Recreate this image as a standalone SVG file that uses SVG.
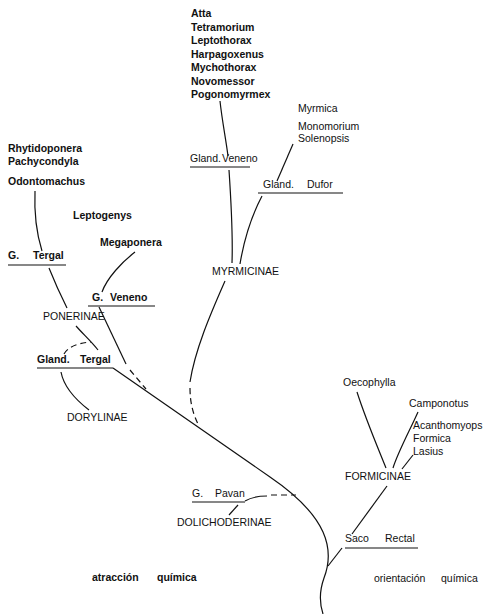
<svg xmlns="http://www.w3.org/2000/svg" width="495" height="614" viewBox="0 0 495 614">
<style>
text{font-family:"Liberation Sans",Arial,sans-serif;font-size:10.5px;fill:#111}
.b{font-weight:bold}
.n{font-weight:normal}
.ul{stroke:#111;stroke-width:1.2}
.c{fill:none;stroke:#111;stroke-width:1.2}
.d{fill:none;stroke:#111;stroke-width:1.2;stroke-dasharray:6 4}
</style>
<rect width="495" height="614" fill="#fff"/>
<g id="connectors">
<path class="c" d="M220,101 C222,120 226,140 228,156"/>
<path class="c" d="M229,170 C231,200 233,235 232,263"/>
<path class="c" d="M293,144 L277,181"/>
<path class="c" d="M262,196 C252,215 244,240 240,264"/>
<path class="c" d="M225,281 C210,315 195,350 190,382"/>
<path class="d" d="M190,388 C190,405 194,416 199,426"/>
<path class="c" d="M35,191 C34,215 37,235 42,251"/>
<path class="c" d="M49,268 C55,283 61,296 67,308"/>
<path class="c" d="M135,252 C122,262 107,278 102,292"/>
<path class="c" d="M99,307 L126,364"/>
<path class="d" d="M130,370 L146,389"/>
<path class="c" d="M76,326 C83,334 92,342 98,350"/>
<path class="d" d="M64,354 C68,347 77,343 91,342"/>
<path class="c" d="M61,372 C64,388 76,400 89,410"/>
<path class="c" d="M113,368 L270,477 C292,492 314,512 323,532 C331,550 329,565 324,578 C319,592 320,605 323,614"/>
<path class="c" d="M245,501 C252,497 258,496 267,496"/>
<path class="d" d="M271,495 L296,495"/>
<path class="c" d="M238,505 L229,515"/>
<path class="c" d="M387,486 L352,534"/>
<path class="c" d="M342,548 L328,566"/>
<path class="c" d="M357,392 C366,420 378,448 386,468"/>
<path class="c" d="M418,412 C410,430 398,452 393,468"/>
<path class="c" d="M413,455 L402,469"/>
</g>
<g id="atta"><text class="b" x="191" y="17">Atta</text></g>
<g id="tetramorium"><text class="b" x="191" y="31">Tetramorium</text></g>
<g id="leptothorax"><text class="b" x="191" y="44">Leptothorax</text></g>
<g id="harpagoxenus"><text class="b" x="191" y="58">Harpagoxenus</text></g>
<g id="mychothorax"><text class="b" x="191" y="71">Mychothorax</text></g>
<g id="novomessor"><text class="b" x="191" y="85">Novomessor</text></g>
<g id="pogonomyrmex"><text class="b" x="191" y="98">Pogonomyrmex</text></g>
<g id="myrmica"><text class="n" x="298" y="112">Myrmica</text></g>
<g id="monomorium"><text class="n" x="298" y="130">Monomorium</text></g>
<g id="solenopsis"><text class="n" x="298" y="142">Solenopsis</text></g>
<g id="gland-veneno"><text class="n" x="190" y="162">Gland.<tspan x="222">Veneno</tspan></text><line class="ul" x1="190" y1="167" x2="250" y2="167"/></g>
<g id="gland-dufor"><text class="n" x="263" y="188">Gland.<tspan x="307">Dufor</tspan></text><line class="ul" x1="258" y1="193" x2="343" y2="193"/></g>
<g id="myrmicinae"><text class="n" x="212" y="275">MYRMICINAE</text></g>
<g id="rhytidoponera"><text class="b" x="8" y="152">Rhytidoponera</text></g>
<g id="pachycondyla"><text class="b" x="8" y="165">Pachycondyla</text></g>
<g id="odontomachus"><text class="b" x="8" y="185">Odontomachus</text></g>
<g id="leptogenys"><text class="b" x="73" y="219">Leptogenys</text></g>
<g id="megaponera"><text class="b" x="100" y="246">Megaponera</text></g>
<g id="g-tergal"><text class="b" x="8" y="259">G.<tspan x="33">Tergal</tspan></text><line class="ul" x1="8" y1="265" x2="66" y2="265"/></g>
<g id="g-veneno"><text class="b" x="92" y="301">G.<tspan x="110">Veneno</tspan></text><line class="ul" x1="88" y1="306" x2="155" y2="306"/></g>
<g id="ponerinae"><text class="n" x="43" y="320">PONERINAE</text></g>
<g id="gland-tergal"><text class="b" x="37" y="363">Gland.<tspan x="80">Tergal</tspan></text><line class="ul" x1="37" y1="368" x2="113" y2="368"/></g>
<g id="dorylinae"><text class="n" x="67" y="421">DORYLINAE</text></g>
<g id="oecophylla"><text class="n" x="343" y="386">Oecophylla</text></g>
<g id="camponotus"><text class="n" x="409" y="407">Camponotus</text></g>
<g id="acanthomyops"><text class="n" x="413" y="429">Acanthomyops</text></g>
<g id="formica"><text class="n" x="413" y="442">Formica</text></g>
<g id="lasius"><text class="n" x="413" y="455">Lasius</text></g>
<g id="formicinae"><text class="n" x="345" y="480">FORMICINAE</text></g>
<g id="g-pavan"><text class="n" x="192" y="497">G.<tspan x="215">Pavan</tspan></text><line class="ul" x1="192" y1="502" x2="245" y2="502"/></g>
<g id="dolichoderinae"><text class="n" x="177" y="526">DOLICHODERINAE</text></g>
<g id="saco-rectal"><text class="n" x="345" y="542">Saco<tspan x="385">Rectal</tspan></text><line class="ul" x1="345" y1="548" x2="418" y2="548"/></g>
<g id="atraccion"><text class="b" x="92" y="581">atracción<tspan x="157">química</tspan></text></g>
<g id="orientacion"><text class="n" x="374" y="582">orientación<tspan x="441">química</tspan></text></g>
</svg>
